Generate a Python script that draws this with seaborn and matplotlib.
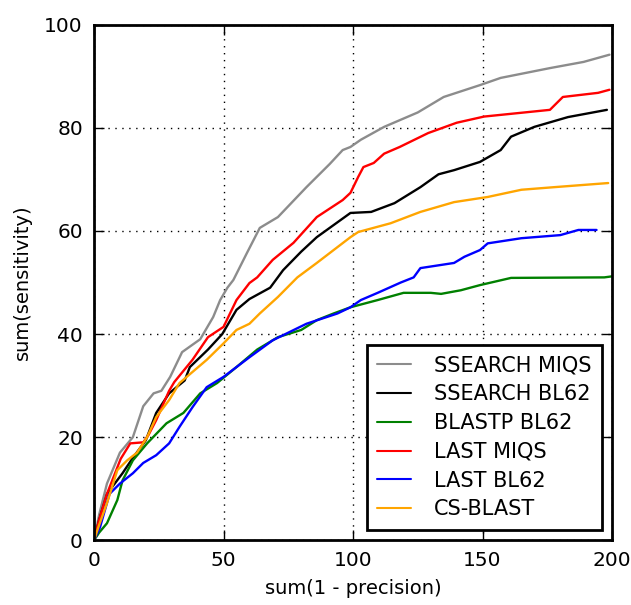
import numpy as np
import pandas as pd
import seaborn as sns
import matplotlib
matplotlib.use('Agg')
import matplotlib.pyplot as plt

# values: (sum(1 - precision), sum(sensitivity))
ssearch_miqs_x = [0, 2, 5, 10, 15, 19, 23, 26, 29.4, 34, 41, 46, 48.7, 51.5, 53.8, 59, 64, 71, 82, 91, 96, 99, 103, 112, 125, 135, 149, 157, 176, 189, 199]
ssearch_miqs_y = [0, 5, 11, 17, 20, 26, 28.5, 29, 31.7, 36.5, 39, 43.3, 46.6, 49, 50.5, 55.7, 60.6, 62.7, 68.5, 73, 75.7, 76.3, 77.7, 80.2, 83, 86, 88.3, 89.7, 91.6, 92.8, 94.2]

ssearch_bl62_x = [0, 2, 5, 11, 15, 20, 24, 29, 35, 37, 44, 49.5, 55, 60, 68, 73, 80, 86, 99, 107, 116, 126, 133, 139, 149, 157, 161, 170, 183, 198]
ssearch_bl62_y = [0, 4, 9, 13, 16, 19.4, 24.7, 28.5, 31, 33.6, 37, 40, 44.7, 46.8, 49, 52.4, 56, 58.8, 63.5, 63.7, 65.4, 68.5, 71, 71.8, 73.4, 75.7, 78.3, 80.2, 82.1, 83.5]

blastp_bl62_x = [0, 2, 5, 9, 11, 15, 20.5, 25.5, 28, 34.5, 41, 47.5, 55, 63, 71, 80, 86, 92.5, 99, 109.5, 119.5, 130, 134, 141.6, 149, 161, 197, 200]
blastp_bl62_y = [0, 1.5, 3.3, 7.8, 11.6, 15.5, 18.8, 21.4, 22.7, 24.7, 28.5, 30.5, 33.6, 37, 39.4, 40.8, 42.7, 44, 45.2, 46.6, 48, 48, 47.8, 48.5, 49.5, 50.9, 51, 51.2]

last_miqs_x = [0, 2, 5, 10.3, 14, 19, 21, 24, 29, 31, 38, 44, 50, 55, 60, 63, 69, 77, 86, 96, 99, 102, 104, 108, 112, 118, 129, 140, 150.6, 176, 181, 194.6, 199]
last_miqs_y = [0, 4, 9, 15.8, 18.8, 19, 20.4, 23.3, 29, 30.7, 35, 39.4, 41.4, 46.6, 49.9, 51, 54.4, 57.7, 62.7, 66, 67.4, 70.5, 72.4, 73.2, 75, 76.3, 79, 81, 82.2, 83.5, 86, 86.8, 87.4]

last_bl62_x = [0, 2.3, 6, 10, 15, 19, 24, 29, 33, 38, 43.5, 50, 60, 69, 82, 94, 99, 103, 109.5, 118.4, 123.4, 126, 139, 143, 149, 152, 165, 180, 187, 194]
last_bl62_y = [0, 2.5, 9, 11, 13, 15, 16.5, 18.8, 22, 25.8, 29.7, 31.7, 35.5, 38.8, 42, 44, 45.2, 46.6, 48, 50, 51, 52.8, 53.8, 55, 56.3, 57.6, 58.6, 59.2, 60.2, 60.2]

cs_blast_x = [0, 2, 5, 9, 12.8, 16.6, 20.5, 24, 29, 33, 43.5, 50, 55, 60, 64, 71, 78.5, 86, 99, 102, 114.5, 126, 139, 152, 165, 177.6, 198.5]
cs_blast_y = [0, 3, 7.2, 13.6, 15.5, 17, 20, 23.9, 27.2, 30.5, 35, 38.2, 40.8, 42, 44, 47.2, 51, 53.8, 58.8, 59.8, 61.5, 63.7, 65.6, 66.6, 68, 68.5, 69.3]

names = ['SSEARCH MIQS', 'SSEARCH BL62', 'BLASTP BL62', 'LAST MIQS', 'LAST BL62', 'CS-BLAST']
colors = ['#8c8c8c', 'black', 'green', 'red', 'blue', 'orange']
series = [(ssearch_miqs_x, ssearch_miqs_y), (ssearch_bl62_x, ssearch_bl62_y),
          (blastp_bl62_x, blastp_bl62_y), (last_miqs_x, last_miqs_y),
          (last_bl62_x, last_bl62_y), (cs_blast_x, cs_blast_y)]

frames = []
for name, (xs, ys) in zip(names, series):
    frames.append(pd.DataFrame({'x': xs, 'y': ys, 'method': name}))
df = pd.concat(frames, ignore_index=True)

sns.set_style('white')
plt.rcParams['font.family'] = ['DejaVu Sans']
plt.rcParams['text.color'] = 'black'
plt.rcParams['axes.labelcolor'] = 'black'
plt.rcParams['xtick.color'] = 'black'
plt.rcParams['ytick.color'] = 'black'

fig = plt.figure(figsize=(6.31, 6.05), dpi=100)
ax = fig.add_axes([0.149, 0.107, 0.821, 0.852])

sns.lineplot(data=df, x='x', y='y', hue='method', hue_order=names,
             palette=dict(zip(names, colors)), sort=False, estimator=None,
             linewidth=1.7, ax=ax)

ax.set_xlim(0, 200)
ax.set_ylim(0, 100)
ax.set_xticks([0, 50, 100, 150, 200])
ax.set_yticks([0, 20, 40, 60, 80, 100])
ax.grid(True, color='black', linestyle=(0, (1, 4)), linewidth=1.0)
ax.tick_params(direction='in', length=7, width=1, labelsize=14.5,
               top=True, right=True, bottom=True, left=True, pad=8)
for s in ax.spines.values():
    s.set_linewidth(2)
    s.set_color('black')
ax.set_xlabel('sum(1 - precision)', fontsize=14, labelpad=6)
ax.set_ylabel('sum(sensitivity)', fontsize=14, labelpad=9)

leg = ax.legend(loc='lower right', fontsize=15, frameon=True, fancybox=False,
                handlelength=1.6, handletextpad=1.1, borderaxespad=0.5,
                labelspacing=0.42, borderpad=0.5)
leg.get_frame().set_edgecolor('black')
leg.get_frame().set_linewidth(2)
leg.get_frame().set_alpha(1)
for line in leg.get_lines():
    line.set_linewidth(1.5)

fig.savefig('out.png', dpi=100)
